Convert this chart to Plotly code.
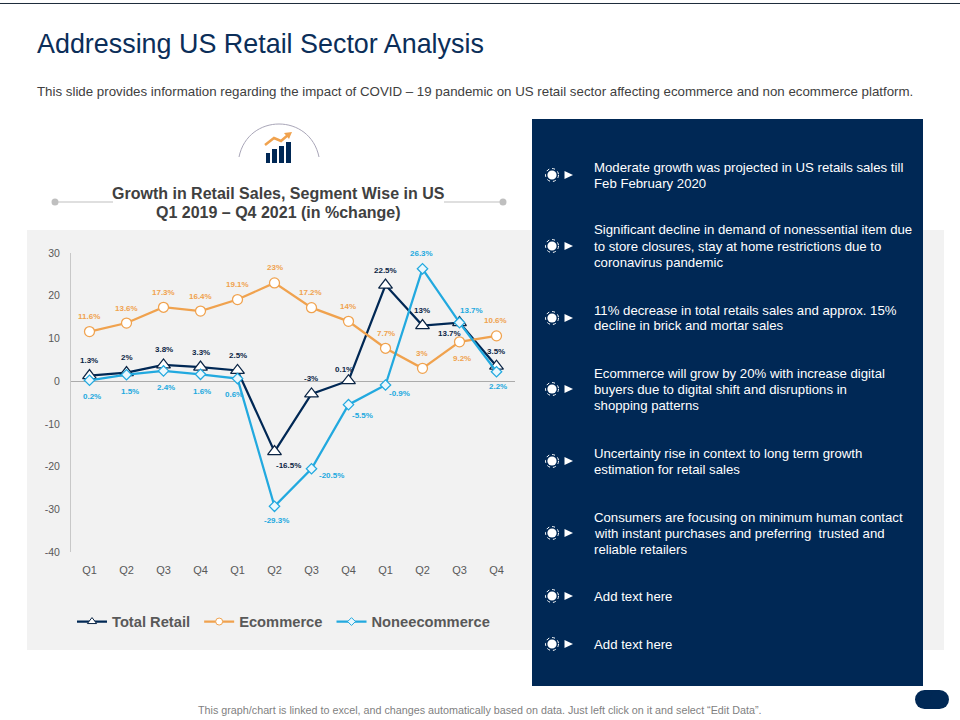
import plotly.graph_objects as go

quarters = ["Q1", "Q2", "Q3", "Q4", "Q1", "Q2", "Q3", "Q4", "Q1", "Q2", "Q3", "Q4"]
y_ticks = [-40, -30, -20, -10, 0, 10, 20, 30]
total_retail = [1.3, 2, 3.8, 3.3, 2.5, -16.5, -3, 0.1, 22.5, 13, 13.7, 3.5]
ecommerce = [11.6, 13.6, 17.3, 16.4, 19.1, 23, 17.2, 14, 7.7, 3, 9.2, 10.6]
noneecommerce = [0.2, 1.5, 2.4, 1.6, 0.6, -29.3, -20.5, -5.5, -0.9, 26.3, 13.7, 2.2]

# label offsets from each point, in px (dx, dy)
total_off = [(-1, -15), (0, -15), (0, -15), (0, -15), (0, -15), (14, 14),
             (-1, -15), (-5, -11), (0, -15), (-1, -15), (-10, 11), (-1, -15)]
ecom_off = [(-1, -15), (0, -15), (0, -15), (0, -15), (0, -15), (0, -15),
            (-1, -15), (-1, -15), (0, -15), (-1, -15), (2, 17), (-1, -15)]
none_off = [(2, 16), (3, 17), (2, 17), (1, 17), (-4, 16), (2, 14),
            (20, 7), (14, 11), (14, 9), (-1, -15), (12, -12), (1, 15)]

bullets = [
    (175, ["Moderate growth was projected in US retails sales till", "Feb February 2020"]),
    (246, ["Significant decline in demand of nonessential item due", "to store closures, stay at home restrictions due to", "coronavirus pandemic"]),
    (318, ["11% decrease in total retails sales and approx. 15%", "decline in brick and mortar sales"]),
    (389, ["Ecommerce will grow by 20% with increase digital", "buyers due to digital shift and disruptions in", "shopping patterns"]),
    (461, ["Uncertainty rise in context to long term growth", "estimation for retail sales"]),
    (533, ["Consumers are focusing on minimum human contact", "with instant purchases and preferring  trusted and", "reliable retailers"]),
    (596, ["Add text here"]),
    (644, ["Add text here"]),
]

NAVY = "#002855"
ORANGE = "#F0A24E"
BLUE = "#22A9DF"
W, H = 960, 720


def px(x):
    return x / W


def py(y):
    return 1 - y / H


def box(x0, y0, x1, y1, color):
    return dict(type="rect", xref="paper", yref="paper", x0=px(x0), x1=px(x1), y0=py(y0), y1=py(y1),
                fillcolor=color, line_width=0, layer="below")


def path(points, fill=None, line=None, width=1):
    d = "M " + " L ".join(f"{px(a):.5f},{py(b):.5f}" for a, b in points)
    if fill:
        d += " Z"
    return dict(type="path", xref="paper", yref="paper", path=d, fillcolor=fill,
                line=dict(color=line, width=width) if line else dict(width=0), layer="below")


def circle(cx, cy, r, fill=None, line=None, width=1, dash="solid"):
    return dict(type="circle", xref="paper", yref="paper", x0=px(cx - r), x1=px(cx + r),
                y0=py(cy + r), y1=py(cy - r), fillcolor=fill,
                line=dict(color=line, width=width, dash=dash) if line else dict(width=0), layer="below")


def text(x, y, s, size, color, anchor="left", bold=False):
    if anchor == "left":
        x -= 2
    return dict(xref="paper", yref="paper", x=px(x), y=py(y), text=f"<b>{s}</b>" if bold else s,
                showarrow=False, xanchor=anchor, yanchor="middle", align=anchor,
                font=dict(family="Liberation Sans", size=size, color=color))


fig = go.Figure()

series = [
    ("Total Retail", total_retail, total_off, NAVY, "#0B2545", "triangle-up", 12, 8),
    ("Ecommerce", ecommerce, ecom_off, ORANGE, ORANGE, "circle", 10, 7),
    ("Noneecommerce", noneecommerce, none_off, BLUE, BLUE, "diamond", 8, 6),
]

annotations = []
x_idx = list(range(len(quarters)))
for name, vals, offs, color, txt, sym, size, key_size in series:
    edge = "#0B2545" if sym == "triangle-up" else color
    fill = "#EAF7FD" if sym == "diamond" else "#FFFFFF"
    fig.add_trace(go.Scatter(
        x=x_idx, y=vals, name=name, mode="lines+markers", showlegend=False,
        line=dict(color=color, width=2.25),
        marker=dict(symbol=sym, size=size, color=fill, line=dict(color=edge, width=1.25)),
    ))
    # legend key has smaller markers than the chart
    fig.add_trace(go.Scatter(
        x=[None], y=[None], name=name + "\u00a0", mode="lines+markers",
        line=dict(color=color, width=2.25),
        marker=dict(symbol=sym, size=key_size, color=fill, line=dict(color=edge, width=1)),
    ))
    for i, v in enumerate(vals):
        annotations.append(dict(
            x=i, y=v, xref="x", yref="y", text=f"<b>{v:g}%</b>", showarrow=False,
            xshift=offs[i][0], yshift=-offs[i][1],
            font=dict(family="Liberation Sans", size=8, color=txt),
        ))

shapes = [
    path([(0, 3.5), (960, 3.5)], line="#1C2B3A", width=1),
    box(27, 230, 944, 650, "#F2F2F2"),
    box(532, 119, 923, 686, NAVY),
    # rounded pill bottom right
    box(924.5, 690, 939.5, 709, NAVY),
    circle(924.5, 699.5, 9.5, fill=NAVY),
    circle(939.5, 699.5, 9.5, fill=NAVY),
    # title rules
    path([(55, 202), (113, 202)], line="#BFBFBF", width=1),
    path([(444, 202), (503, 202)], line="#BFBFBF", width=1),
    circle(55, 202, 3.5, fill="#BFBFBF"),
    circle(503, 202, 3.5, fill="#BFBFBF"),
    # icon
    dict(type="path", xref="paper", yref="paper",
         path=f"M {px(239)},{py(157)} C {px(248)},{py(113)} {px(310)},{py(113)} {px(319)},{py(157)}",
         line=dict(color="#A9A6B8", width=1), layer="below"),
    box(266, 153, 270, 163, NAVY),
    box(272, 149, 277, 163, NAVY),
    box(279, 146, 284, 163, NAVY),
    box(286, 142, 291, 163, NAVY),
    path([(265, 145), (274, 138), (281, 141), (288, 135)], line=ORANGE, width=2.5),
    path([(284, 133), (292, 132), (289, 139)], fill=ORANGE),
]

for y, _ in bullets:
    shapes += [
        circle(552, y, 6.5, line="#FFFFFF", width=1, dash="dot"),
        circle(552, y, 4.6, fill="#FFFFFF"),
        path([(564.5, y - 4), (573, y), (564.5, y + 4)], fill="#FFFFFF"),
    ]

annotations += [
    text(37, 44, "Addressing US Retail Sector Analysis", 26.9, "#0B2E59"),
    text(37, 91, "This slide provides information regarding the impact of COVID – 19 pandemic on US retail sector affecting ecommerce and non ecommerce platform.", 13.3, "#404040"),
    text(278, 194, "Growth in Retail Sales, Segment Wise in US", 16, "#404040", anchor="center", bold=True),
    text(278, 212, "Q1 2019 – Q4 2021 (in %change)", 16, "#404040", anchor="center", bold=True),
    text(479, 710, "This graph/chart is linked to excel, and changes automatically based on data. Just left click on it and select “Edit Data”.", 10.75, "#7F7F7F", anchor="center"),
]
for y, lines in bullets:
    top = y - 8 * (len(lines) - 1)
    for n, s in enumerate(lines):
        annotations.append(text(594, top + 16 * n, s, 13.2, "#FFFFFF"))

fig.update_layout(
    width=W, height=H, margin=dict(l=0, r=0, t=0, b=0, autoexpand=False),
    paper_bgcolor="#FFFFFF", plot_bgcolor="rgba(0,0,0,0)",
    shapes=shapes, annotations=annotations,
    font=dict(family="Liberation Sans", color="#595959"),
    legend=dict(orientation="h", x=px(72), y=py(622), xanchor="left", yanchor="middle",
                bgcolor="rgba(0,0,0,0)", font=dict(size=14.7, color="#595959", weight="bold"),
                itemwidth=30, traceorder="normal"),
    showlegend=True,
)
fig.update_xaxes(
    domain=[px(71), px(515)], range=[-0.5, 11.5], tickmode="array", tickvals=x_idx, ticktext=quarters,
    showgrid=False, showline=False, zeroline=False, ticks="outside", ticklen=8, tickcolor="rgba(0,0,0,0)",
    tickfont=dict(size=11, color="#595959"),
)
fig.update_yaxes(
    domain=[py(552), py(253)], range=[-40, 30], tickmode="array", tickvals=y_ticks,
    ticktext=[str(t) for t in y_ticks],
    showgrid=False, showline=True, linecolor="#C8C8C8", linewidth=1,
    zeroline=True, zerolinecolor="#ABABAB", zerolinewidth=1,
    ticks="outside", ticklen=8, tickcolor="rgba(0,0,0,0)", tickfont=dict(size=10.5, color="#595959"),
)

fig.write_html("out.html", config=dict(displayModeBar=False), post_script="document.body.style.margin='0';")
